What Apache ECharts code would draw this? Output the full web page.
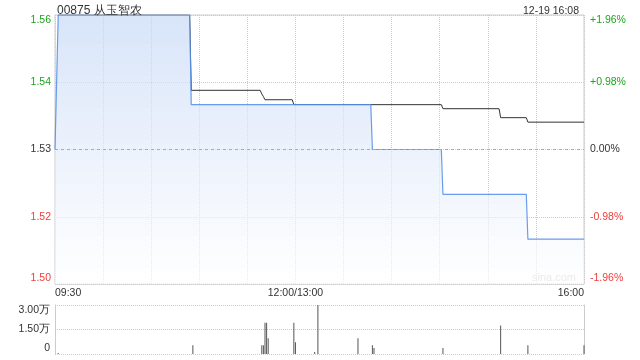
<!DOCTYPE html>
<html>
<head>
<meta charset="utf-8">
<script src="https://cdn.jsdelivr.net/npm/echarts@6/dist/echarts.min.js"></script>
<style>
html,body{margin:0;padding:0;background:#fff;}
#c{width:640px;height:360px;}
</style>
</head>
<body>
<div id="c"></div>
<script>
// ---- data ----
var titleText = '00875 从玉智农';
var dateText = '12-19 16:08';
var prevClose = 1.53;

// minutes since 09:30 (trading minutes, lunch break removed) and prices at change points
var priceMinutes = [0, 1, 2, 84, 85, 197, 198, 241, 242, 294, 295, 330];
var priceValues  = [1.53, 1.53, 1.56, 1.56, 1.54, 1.54, 1.53, 1.53, 1.52, 1.52, 1.51, 1.51];

var avgMinutes = [2, 84, 85, 128, 129, 130, 131, 148, 149, 241, 242, 277, 278, 294, 295, 330];
var avgValues  = [1.56, 1.56, 1.5432, 1.5432, 1.5424, 1.5418, 1.5411, 1.5411, 1.54, 1.54, 1.5391, 1.5391, 1.5371, 1.5371, 1.5361, 1.5361];

var volMinutes = [2, 86, 129, 130, 131, 132, 133, 149, 150, 162, 164, 189, 198, 199, 242, 278, 295, 330];
var volValues  = [600, 5400, 5400, 5400, 19200, 19200, 9600, 19200, 7200, 1200, 30000, 9600, 5400, 3600, 3600, 17400, 5400, 5400];

var timeTickMinutes = [0, 150, 330];
var timeTickLabels  = ['09:30', '12:00/13:00', '16:00'];

var priceTicks  = [1.50, 1.515, 1.53, 1.545, 1.56];
var priceLabels = ['1.50', '1.52', '1.53', '1.54', '1.56'];
var pctLabels   = ['-1.96%', '-0.98%', '0.00%', '+0.98%', '+1.96%'];

var volTicks  = [0, 15000, 30000];
var volLabels = ['0', '1.50万', '3.00万'];

// ---- chart ----
function pair(xs, ys) { return xs.map(function (x, i) { return [x, ys[i]]; }); }
function nearestIdx(arr, v) {
  var best = 0, d = Infinity;
  arr.forEach(function (a, i) { var dd = Math.abs(a - v); if (dd < d) { d = dd; best = i; } });
  return best;
}
var GREEN = '#1ea51e', RED = '#f03c3c', DARK = '#333';
function priceColor(v) {
  v = Number(v);
  if (v > prevClose + 1e-6) return GREEN;
  if (v < prevClose - 1e-6) return RED;
  return DARK;
}
var FONT = '"Liberation Sans", Arial, sans-serif';

var chart = echarts.init(document.getElementById('c'));
chart.setOption({
  animation: false,
  textStyle: { fontFamily: FONT },
  title: [
    { text: titleText, left: 52, top: 0, textStyle: { fontSize: 12, fontWeight: 'normal', color: '#333', fontFamily: FONT } },
    { text: dateText, right: 56, top: 1, textStyle: { fontSize: 10.5, fontWeight: 'normal', color: '#333', fontFamily: FONT } }
  ],
  graphic: [
    { type: 'text', left: 532, top: 272, silent: true,
      style: { text: 'sina.com', fill: '#c8c8c8', font: '11px ' + FONT } }
  ],
  grid: [
    { left: 55, top: 15, width: 529, height: 269, show: true, borderColor: '#ccc', borderWidth: 1, containLabel: false },
    { left: 55, top: 305, width: 529, height: 49, containLabel: false }
  ],
  xAxis: [
    {
      gridIndex: 0, type: 'value', min: 0, max: 330, interval: 30,
      axisLine: { show: false }, axisTick: { show: false },
      splitLine: { show: true, lineStyle: { color: '#ccc', type: 'dotted', width: 1 } },
      axisLabel: {
        margin: 4, fontSize: 10.5, color: '#333', fontFamily: FONT,
        alignMinLabel: 'left', alignMaxLabel: 'right',
        formatter: function (v) { var i = timeTickMinutes.indexOf(Math.round(v)); return i >= 0 ? timeTickLabels[i] : ''; }
      }
    },
    {
      gridIndex: 1, type: 'value', min: 0, max: 330, interval: 30,
      axisLine: { show: false }, axisTick: { show: false }, axisLabel: { show: false }, splitLine: { show: false }
    }
  ],
  yAxis: [
    {
      gridIndex: 0, type: 'value', min: 1.50, max: 1.56, interval: 0.015, position: 'left',
      axisLine: { show: false }, axisTick: { show: false },
      splitLine: { show: true, lineStyle: { color: '#ccc', type: 'dotted', width: 1 } },
      axisLabel: {
        margin: 4, fontSize: 10.5, fontFamily: FONT,
        verticalAlignMaxLabel: 'top', verticalAlignMinLabel: 'bottom',
        color: function (v) { return priceColor(v); },
        formatter: function (v) { return priceLabels[nearestIdx(priceTicks, v)]; }
      }
    },
    {
      gridIndex: 0, type: 'value', min: 1.50, max: 1.56, interval: 0.015, position: 'right',
      axisLine: { show: false }, axisTick: { show: false }, splitLine: { show: false },
      axisLabel: {
        margin: 6, fontSize: 10.5, fontFamily: FONT,
        verticalAlignMaxLabel: 'top', verticalAlignMinLabel: 'bottom',
        color: function (v) { return priceColor(v); },
        formatter: function (v) { return pctLabels[nearestIdx(priceTicks, v)]; }
      }
    },
    {
      gridIndex: 1, type: 'value', min: 0, max: 30000, interval: 15000, position: 'left',
      axisLine: { show: true, lineStyle: { color: '#ccc', width: 1 } }, axisTick: { show: false },
      splitLine: { show: true, lineStyle: { color: '#ccc', type: 'dotted', width: 1 } },
      axisLabel: {
        margin: 5, fontSize: 10.5, color: '#333', fontFamily: FONT,
        verticalAlignMaxLabel: 'top', verticalAlignMinLabel: 'bottom',
        formatter: function (v) { return volLabels[nearestIdx(volTicks, v)]; }
      }
    },
    {
      gridIndex: 1, type: 'value', min: 0, max: 30000, interval: 15000, position: 'right',
      axisLine: { show: true, lineStyle: { color: '#ccc', width: 1 } }, axisTick: { show: false },
      splitLine: { show: false }, axisLabel: { show: false }
    }
  ],
  series: [
    {
      name: 'avg', type: 'line', xAxisIndex: 0, yAxisIndex: 0,
      data: pair(avgMinutes, avgValues), symbol: 'none', z: 3,
      lineStyle: { color: '#333', width: 1 }
    },
    {
      name: 'price', type: 'line', xAxisIndex: 0, yAxisIndex: 0,
      data: pair(priceMinutes, priceValues), symbol: 'none', z: 4,
      lineStyle: { color: 'rgba(80,140,232,0.85)', width: 1.2 },
      areaStyle: {
        origin: 'start',
        color: new echarts.graphic.LinearGradient(0, 0, 0, 1, [
          { offset: 0, color: 'rgba(196,215,246,0.95)' },
          { offset: 1, color: 'rgba(255,255,255,0.9)' }
        ])
      },
      markLine: {
        silent: true, symbol: 'none', label: { show: false },
        lineStyle: { color: '#aaa', type: [3, 3], width: 1 },
        data: [{ yAxis: prevClose }]
      }
    },
    {
      name: 'vol', type: 'bar', xAxisIndex: 1, yAxisIndex: 2,
      data: pair(volMinutes, volValues), barWidth: 1,
      itemStyle: { color: '#555' }
    }
  ]
});
</script>
</body>
</html>
